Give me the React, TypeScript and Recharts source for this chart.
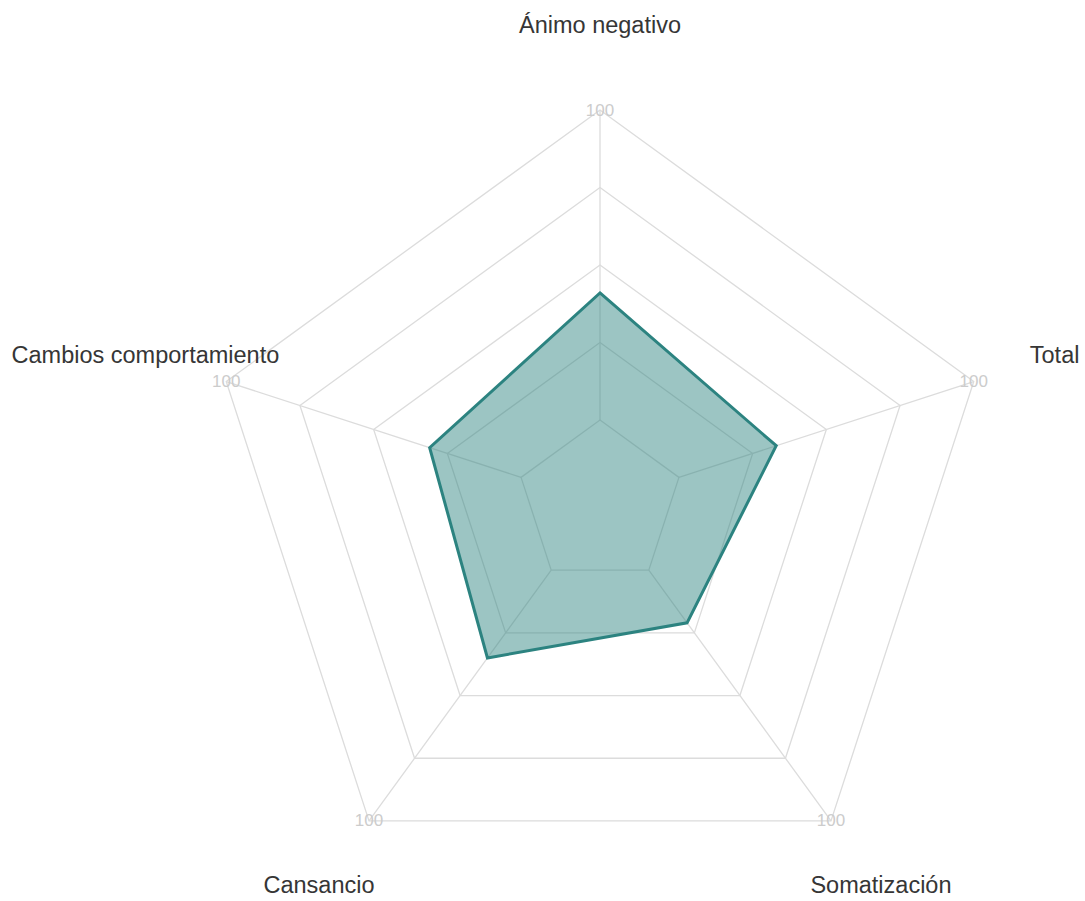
import { RadarChart, Radar, PolarGrid, PolarAngleAxis, PolarRadiusAxis } from "recharts";

const categories = ["Ánimo negativo", "Total", "Somatización", "Cansancio", "Cambios comportamiento"];
const scores = [41, 33, 21, 35, 31];
const maxLabel = "100";

const data = categories.map((name, i) => ({ name, value: scores[i] }));

const CX = 600;
const CY = 503;
const OUTER = 393;
const LABEL_R = 478;

function AngleTick(props: any) {
  const { x, y, payload } = props;
  const dx = x - CX;
  const dy = y - CY;
  const len = Math.sqrt(dx * dx + dy * dy) || 1;
  const ux = dx / len;
  const uy = dy / len;
  // keep the bottom labels inside the canvas
  const ly = Math.min(CY + uy * LABEL_R, 885);
  return (
    <g>
      <text
        x={CX + ux * OUTER}
        y={CY + uy * OUTER}
        textAnchor="middle"
        dominantBaseline="central"
        fill="#cccccc"
        fontSize={17}
        fontFamily="'Liberation Sans', Arial, sans-serif"
      >
        {maxLabel}
      </text>
      <text
        x={CX + ux * LABEL_R}
        y={ly}
        textAnchor="middle"
        dominantBaseline="central"
        fill="#363636"
        fontSize={23.5}
        fontFamily="'Liberation Sans', Arial, sans-serif"
      >
        {payload.value}
      </text>
    </g>
  );
}

export default function App() {
  return (
    <div style={{ position: "absolute", left: 0, top: 0, background: "#fff" }}>
      <RadarChart
        width={1085}
        height={901}
        data={data}
        cx={CX}
        cy={CY}
        innerRadius={83}
        outerRadius={OUTER}
      >
        <PolarGrid gridType="polygon" stroke="#dcdcdc" strokeWidth={1.3} />
        <PolarAngleAxis dataKey="name" tick={<AngleTick />} tickLine={false} axisLine={false} />
        <PolarRadiusAxis domain={[0, 100]} tickCount={5} tick={false} axisLine={false} />
        <Radar
          dataKey="value"
          stroke="#2c8380"
          strokeWidth={3}
          fill="#2c8380"
          fillOpacity={0.47}
          isAnimationActive={false}
        />
      </RadarChart>
    </div>
  );
}
